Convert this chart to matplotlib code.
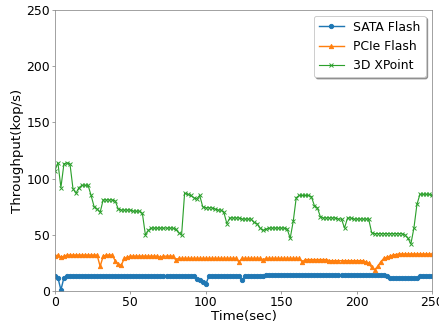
import matplotlib
matplotlib.use("Agg")
import matplotlib.pyplot as plt
import numpy as np

# sampled every 2 seconds, 0..250
time_sec = np.arange(0, 251, 2)

sata_flash = [
    13, 12, 1, 12, 13, 13, 13, 13, 13, 13,
    13, 13, 13, 13, 13, 13, 13, 13, 13, 13,
    13, 13, 13, 13, 13, 13, 13, 13, 13, 13,
    13, 13, 13, 13, 13, 13, 13, 13, 13, 13,
    13, 13, 13, 13, 13, 13, 13, 11, 10, 8,
    6, 13, 13, 13, 13, 13, 13, 13, 13, 13,
    13, 13, 10, 13, 13, 13, 13, 13, 13, 13,
    14, 14, 14, 14, 14, 14, 14, 14, 14, 14,
    14, 14, 14, 14, 14, 14, 14, 14, 14, 14,
    14, 14, 14, 14, 14, 14, 14, 14, 14, 14,
    14, 14, 14, 14, 14, 14, 14, 14, 14, 14,
    13, 12, 12, 12, 12, 12, 12, 12, 12, 12,
    12, 13, 13, 13, 13, 13,
]

pcie_flash = [
    31, 32, 30, 31, 32, 32, 32, 32, 32, 32,
    32, 32, 32, 32, 32, 22, 31, 32, 32, 32,
    27, 24, 23, 29, 30, 31, 31, 31, 31, 31,
    31, 31, 31, 31, 31, 30, 31, 31, 31, 31,
    28, 29, 29, 29, 29, 29, 29, 29, 29, 29,
    29, 29, 29, 29, 29, 29, 29, 29, 29, 29,
    29, 26, 29, 29, 29, 29, 29, 29, 29, 28,
    29, 29, 29, 29, 29, 29, 29, 29, 29, 29,
    29, 29, 26, 28, 28, 28, 28, 28, 28, 28,
    28, 27, 27, 27, 27, 27, 27, 27, 27, 27,
    27, 27, 27, 26, 25, 21, 19, 22, 26, 29,
    30, 31, 32, 32.5, 33, 33, 33, 33, 33, 33,
    33, 33, 33, 33, 33, 33,
]

xpoint_3d = [
    107, 114, 92, 113, 114, 113, 91, 87, 92, 94,
    94, 94, 85, 75, 73, 70, 81, 81, 81, 81,
    80, 73, 72, 72, 72, 72, 71, 71, 71, 69,
    50, 54, 56, 56, 56, 56, 56, 56, 56, 56,
    55, 52, 50, 87, 86, 85, 83, 82, 85, 75,
    74, 74, 74, 73, 72, 72, 70, 60, 65, 65,
    65, 65, 64, 64, 64, 64, 61, 60, 56, 54,
    55, 56, 56, 56, 56, 56, 56, 55, 47, 62,
    83, 85, 85, 85, 85, 84, 76, 74, 66, 65,
    65, 65, 65, 65, 64, 64, 56, 65, 65, 64,
    64, 64, 64, 64, 64, 52, 51, 51, 51, 51,
    51, 51, 51, 51, 51, 51, 50, 47, 42, 56,
    77, 86, 86, 86, 86, 85,
]

x_ticks = [0, 50, 100, 150, 200, 250]
y_ticks = [0, 50, 100, 150, 200, 250]

fig, ax = plt.subplots(figsize=(6.4, 4.8), dpi=68.6)
fig.subplots_adjust(left=0.125, right=0.984, top=0.97, bottom=0.115)

ax.plot(time_sec, sata_flash, color="C0", marker="o", markersize=4.5,
        linewidth=1.5, label="SATA Flash")
ax.plot(time_sec, pcie_flash, color="C1", marker="^", markersize=4.5,
        linewidth=1.5, label="PCIe Flash")
ax.plot(time_sec, xpoint_3d, color="C2", marker="x", markersize=4,
        linewidth=1.2, label="3D XPoint")

ax.set_xlim(0, 250)
ax.set_ylim(0, 250)
ax.set_xticks(x_ticks)
ax.set_yticks(y_ticks)
ax.tick_params(labelsize=13, color="#888888", pad=1.5)
for spine in ax.spines.values():
    spine.set_color("#888888")

ax.set_xlabel("Time(sec)", fontsize=14, labelpad=1)
ax.set_ylabel("Throughput(kop/s)", fontsize=14, labelpad=3)
ax.legend(loc="upper right", fontsize=13, shadow=True)

fig.savefig("out.png", dpi=68.6)
